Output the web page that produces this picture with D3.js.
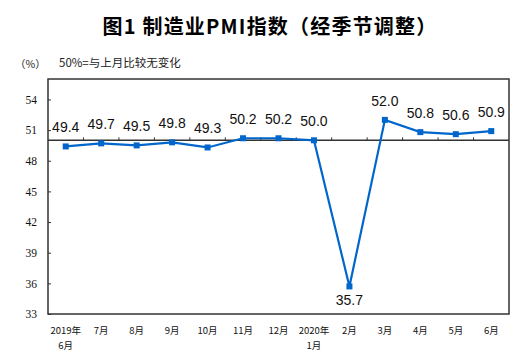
<!DOCTYPE html>
<html>
<head>
<meta charset="utf-8">
<script src="https://cdn.jsdelivr.net/npm/d3@7"></script>
<style>
  body { margin: 0; background: #fff; }
  svg { display: block; }
</style>
</head>
<body>
<svg id="chart"></svg>
<script>
// data
var months = ["2019年|6月", "7月", "8月", "9月", "10月", "11月", "12月", "2020年|1月", "2月", "3月", "4月", "5月", "6月"];
var pmi = [49.4, 49.7, 49.5, 49.8, 49.3, 50.2, 50.2, 50.0, 35.7, 52.0, 50.8, 50.6, 50.9];
var yTicks = [33, 36, 39, 42, 45, 48, 51, 54];

var W = 528, H = 353;
var margin = {top: 79, right: 19, bottom: 39, left: 48},
    width = W - margin.left - margin.right,
    height = H - margin.top - margin.bottom;

var blue = "#0066cc";
var dark = "#333333";

var svg = d3.select("#chart")
    .attr("width", W)
    .attr("height", H);

// title
svg.append("text")
    .attr("x", 270)
    .attr("y", 34)
    .attr("text-anchor", "middle")
    .style("font-family", "'Noto Sans CJK SC', sans-serif")
    .style("font-size", "20px")
    .style("font-weight", "bold")
    .style("letter-spacing", "1.2px")
    .style("fill", "#000")
    .text("图1 制造业PMI指数（经季节调整）");

svg.append("text")
    .attr("x", 15)
    .attr("y", 68)
    .style("font-family", "'Noto Sans CJK SC', sans-serif")
    .style("font-size", "10.5px")
    .style("fill", "#222")
    .text("（%）");

svg.append("text")
    .attr("x", 59)
    .attr("y", 67)
    .style("font-family", "'Noto Sans CJK SC', sans-serif")
    .style("font-size", "11.5px")
    .style("fill", "#222")
    .text("50%=与上月比较无变化");

var g = svg.append("g")
    .attr("transform", "translate(" + margin.left + "," + margin.top + ")");

var x = d3.scaleBand()
    .domain(months)
    .range([0, width]);

var y = d3.scaleLinear()
    .domain([33, 56])
    .range([height, 0]);

// plot frame
g.append("rect")
    .attr("x", 0)
    .attr("y", 0)
    .attr("width", width)
    .attr("height", height)
    .style("fill", "none")
    .style("stroke", dark)
    .style("stroke-width", 1.5);

// y axis, ticks pointing inward
var yAxis = g.append("g")
    .call(d3.axisRight(y).tickValues(yTicks).tickSize(3).tickFormat(d3.format("d")));
yAxis.select(".domain").remove();
yAxis.selectAll("line").style("stroke", dark);
yAxis.selectAll("text")
    .attr("x", -11)
    .style("text-anchor", "end")
    .style("font-family", "'Liberation Serif', serif")
    .style("font-size", "11.5px")
    .style("fill", "#111");

// category axis crossing at 50
var y50 = y(50);
g.append("line")
    .attr("x1", 0).attr("x2", width)
    .attr("y1", y50).attr("y2", y50)
    .style("stroke", dark)
    .style("stroke-width", 1.5);

g.selectAll(".xtick")
    .data(months.slice(1))
    .join("line")
    .attr("class", "xtick")
    .attr("x1", d => x(d)).attr("x2", d => x(d))
    .attr("y1", y50).attr("y2", y50 - 3)
    .style("stroke", dark);

// category labels under the frame, one text per line
var labLines = [];
months.forEach(function (d) {
    d.split("|").forEach(function (p, i) {
        labLines.push({cat: d, text: p, row: i});
    });
});

g.selectAll(".xlab")
    .data(labLines)
    .join("text")
    .attr("class", "xlab")
    .attr("x", d => x(d.cat) + x.bandwidth() / 2)
    .attr("y", d => height + 20 + d.row * 14.5)
    .attr("text-anchor", "middle")
    .style("font-family", "'Noto Sans CJK SC', sans-serif")
    .style("font-size", "9.5px")
    .style("fill", "#111")
    .text(d => d.text);

// series
var cx = function (d, i) { return x(months[i]) + x.bandwidth() / 2; };

g.append("path")
    .datum(pmi)
    .attr("d", d3.line().x(cx).y(d => y(d)))
    .style("fill", "none")
    .style("stroke", blue)
    .style("stroke-width", 2.2);

g.selectAll(".mark")
    .data(pmi)
    .join("rect")
    .attr("class", "mark")
    .attr("x", (d, i) => cx(d, i) - 3)
    .attr("y", d => y(d) - 3)
    .attr("width", 6)
    .attr("height", 6)
    .style("fill", blue);

var minV = d3.min(pmi);
g.selectAll(".vlab")
    .data(pmi)
    .join("text")
    .attr("class", "vlab")
    .attr("x", cx)
    .attr("y", d => d == minV ? y(d) + 19 : y(d) - 14)
    .attr("text-anchor", "middle")
    .style("font-family", "'Liberation Sans', Arial, sans-serif")
    .style("font-size", "14px")
    .style("fill", "#111")
    .text(d => d.toFixed(1));
</script>
</body>
</html>
